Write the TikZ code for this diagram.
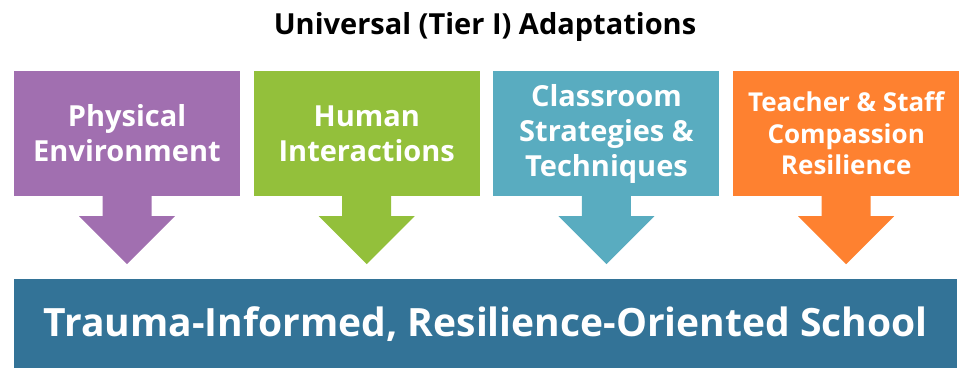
\documentclass[tikz,border=0pt]{standalone}
\usepackage{fontspec}
\setmainfont{Open Sans}
\usepackage{tikz}
\usetikzlibrary{positioning}
\definecolor{physColor}{RGB}{161, 111, 176}
\definecolor{humanColor}{RGB}{147, 192, 59}
\definecolor{classColor}{RGB}{89, 172, 192}
\definecolor{staffColor}{RGB}{254, 129, 48}
\definecolor{schoolColor}{RGB}{51, 115, 151}
\tikzset{
    tier_box/.style={
        rectangle,
        inner sep=0pt,
        minimum width=226pt,
        minimum height=125pt,
        align=center,
        text=white,
        font=\bfseries\fontsize{29}{35}\selectfont
    },
    school_bar/.style={
        rectangle,
        inner sep=0pt,
        minimum width=943pt,
        minimum height=89pt,
        fill=schoolColor,
        text=white,
        font=\bfseries\fontsize{39}{44}\selectfont
    },
    title_text/.style={
        font=\bfseries\fontsize{29}{32}\selectfont,
        text=black
    }
}

\begin{document}
\begin{tikzpicture}
    \useasboundingbox (0,0) rectangle (959pt,-368pt);

    \node[title_text] (title) at (485pt,-27pt) {Universal (Tier I) Adaptations};

    \node[tier_box, fill=physColor] (phys) at (127pt,-133.5pt) {Physical\\Environment};
    \node[tier_box, fill=humanColor, right=13.33pt of phys] (human) {Human\\Interactions};
    \node[tier_box, fill=classColor, right=13.33pt of human] (class) {Classroom\\Strategies \&\\Techniques};
    \node[tier_box, fill=staffColor, right=13.33pt of class,
          font=\bfseries\fontsize{26}{31.5}\selectfont] (staff) {Teacher \& Staff\\Compassion\\Resilience};

    \node[school_bar, anchor=north west] (school) at (14pt,-279pt)
        {Trauma-Informed, Resilience-Oriented School};

    % block arrows hanging under each box
    \foreach \b/\c in {phys/physColor, human/humanColor, class/classColor, staff/staffColor}
        \fill[\c] (\b.south) ++(-24.5pt,0) -- ++(0,-20pt) -- ++(-23.5pt,0)
            -- ++(48pt,-48pt) -- ++(48pt,48pt) -- ++(-23.5pt,0) -- ++(0,20pt) -- cycle;
\end{tikzpicture}
\end{document}
